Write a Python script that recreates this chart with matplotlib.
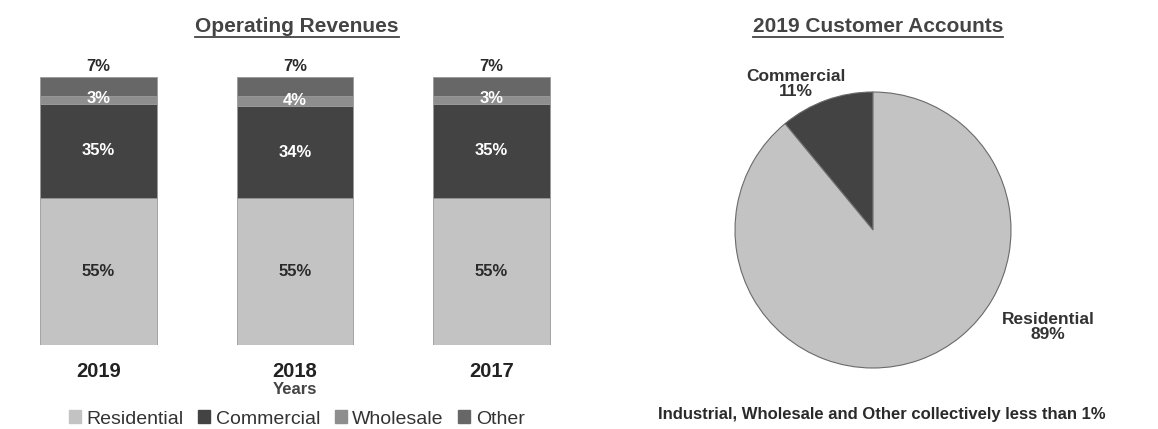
import matplotlib
matplotlib.use("Agg")
import matplotlib.pyplot as plt
from matplotlib.lines import Line2D
import numpy as np

plt.rcParams['font.family'] = ['Liberation Sans', 'DejaVu Sans']

years = ["2019", "2018", "2017"]
residential = [55, 55, 55]
commercial = [35, 34, 35]
wholesale = [3, 4, 3]
other = [7, 7, 7]

pie_labels = ["Commercial", "Residential"]
pie_values = [11, 89]

c_res = "#c3c3c3"
c_com = "#434343"
c_whl = "#8e8e8e"
c_oth = "#676767"
txt = "#333333"

fig = plt.figure(figsize=(11.58, 4.29), dpi=100)
W, H = 1158, 429

# stacked revenue bars
ax = fig.add_axes([39.4 / W, (H - 345) / H, (550.6 - 39.4) / W, 268 / H])
x = np.arange(len(years))
bw = 0.594
bottom = np.zeros(len(years))
for vals, col in [(residential, c_res), (commercial, c_com), (wholesale, c_whl), (other, c_oth)]:
    ax.bar(x, vals, bw, bottom=bottom, color=col, edgecolor="#9a9a9a", linewidth=0.6)
    bottom += np.array(vals)
ax.set_xlim(-0.3, 2.3)
ax.set_ylim(0, 100)
for s in ax.spines.values():
    s.set_visible(False)
ax.set_yticks([])
ax.set_xticks(x)
ax.set_xticklabels(years, fontsize=14.5, fontweight="bold", color="#222222")
ax.tick_params(axis="x", length=0, pad=12)
ax.set_xlabel("Years", fontsize=12, fontweight="bold", color="#444444", labelpad=1)

for i in range(len(years)):
    r, c, w, o = residential[i], commercial[i], wholesale[i], other[i]
    ax.text(i, r / 2, f"{r}%", ha="center", va="center", color="#2a2a2a",
            fontsize=12, fontweight="bold")
    ax.text(i, r + c / 2, f"{c}%", ha="center", va="center", color="white",
            fontsize=12, fontweight="bold")
    ax.text(i, r + c + w / 2 + 0.4, f"{w}%", ha="center", va="center", color="white",
            fontsize=12, fontweight="bold")
    ax.text(i, r + c + w + o + 1, f"{o}%", ha="center", va="bottom", color="#2a2a2a",
            fontsize=12, fontweight="bold")

handles = [plt.Rectangle((0, 0), 1, 1, color=col) for col in (c_res, c_com, c_whl, c_oth)]
fig.legend(handles, ["Residential", "Commercial", "Wholesale", "Other"],
           loc="center", bbox_to_anchor=(297 / W, (H - 419) / H), ncol=4,
           frameon=False, fontsize=14, handlelength=0.6, handleheight=0.6,
           handletextpad=0.3, columnspacing=0.75, labelcolor="#333333",
           borderpad=0, borderaxespad=0)

# customer accounts pie
R = 138
pax = fig.add_axes([(873 - R) / W, (H - 230 - R) / H, 2 * R / W, 2 * R / H])
pax.pie(pie_values, colors=[c_com, c_res], startangle=90, counterclock=True,
        wedgeprops=dict(edgecolor="#6a6a6a", linewidth=0.8))
pax.set_xlim(-1, 1)
pax.set_ylim(-1, 1)
pax.set_aspect("equal")
pax.text((796 - 873) / R, (230 - 84) / R, f"{pie_labels[0]}\n{pie_values[0]}%",
         ha="center", va="center", fontsize=12.5, fontweight="bold", color=txt,
         linespacing=1.05)
pax.text((1048 - 873) / R, (230 - 327) / R, f"{pie_labels[1]}\n{pie_values[1]}%",
         ha="center", va="center", fontsize=12.5, fontweight="bold", color=txt,
         linespacing=1.05)

fig.text(882 / W, (H - 415) / H, "Industrial, Wholesale and Other collectively less than 1%",
         ha="center", va="center", fontsize=12, fontweight="bold", color="#2a2a2a")

titles = [
    fig.text(297 / W, (H - 26) / H, "Operating Revenues", ha="center", va="center",
             fontsize=15, fontweight="bold", color="#444444"),
    fig.text(878 / W, (H - 26) / H, "2019 Customer Accounts", ha="center", va="center",
             fontsize=15, fontweight="bold", color="#444444"),
]

# underline the titles
fig.canvas.draw()
rend = fig.canvas.get_renderer()
for t in titles:
    bb = t.get_window_extent(rend)
    y0 = (bb.y0 - 1) / H
    fig.add_artist(Line2D([bb.x0 / W, bb.x1 / W], [y0, y0], color="#444444", linewidth=1.3))

fig.savefig("out.png", dpi=100, facecolor="white")
